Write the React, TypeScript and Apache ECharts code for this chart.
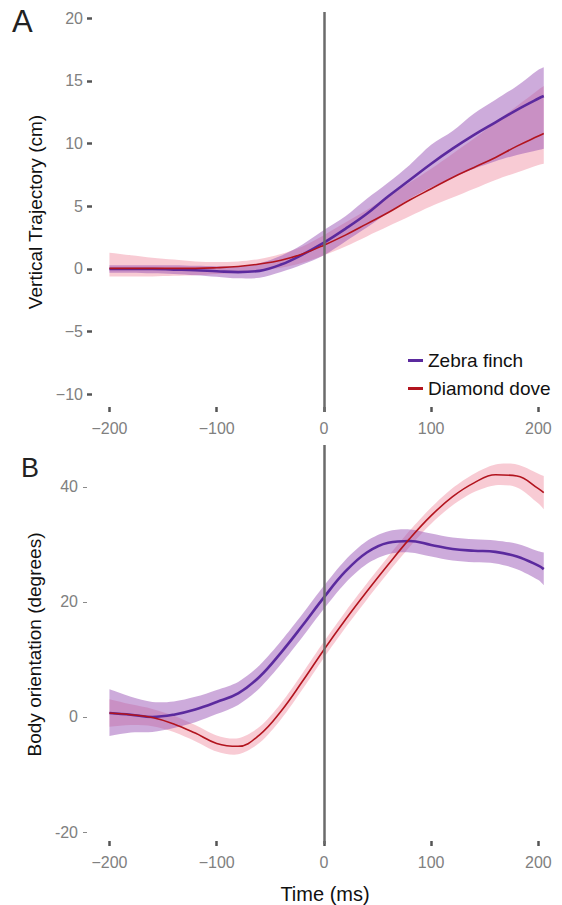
import React, { useEffect, useRef } from "react";
import * as echarts from "echarts";

// Time points (ms)
const TIME = [-200, -180, -160, -140, -120, -100, -80, -60, -40, -20, 0, 20, 40, 60, 80, 100, 120, 140, 160, 180, 200, 205];

// Panel A: vertical trajectory (cm)
const ZF_A_MEAN = [0.0, 0.0, 0.0, -0.05, -0.1, -0.18, -0.25, -0.15, 0.35, 1.15, 2.1, 3.2, 4.4, 5.8, 7.1, 8.4, 9.6, 10.7, 11.7, 12.7, 13.6, 13.8];
const ZF_A_LOW = [-0.3, -0.3, -0.35, -0.4, -0.5, -0.62, -0.75, -0.7, -0.25, 0.35, 1.1, 2.2, 3.3, 4.5, 5.6, 6.5, 7.3, 8.0, 8.6, 9.1, 9.5, 9.6];
const ZF_A_HIGH = [0.3, 0.3, 0.3, 0.3, 0.25, 0.22, 0.22, 0.45, 1.05, 1.95, 3.1, 4.2, 5.6, 6.9, 8.3, 9.9, 11.0, 12.4, 13.5, 14.6, 15.9, 16.1];
const DD_A_MEAN = [0.05, 0.05, 0.05, 0.05, 0.05, 0.1, 0.2, 0.4, 0.7, 1.2, 1.9, 2.7, 3.6, 4.5, 5.5, 6.4, 7.3, 8.1, 8.9, 9.8, 10.6, 10.8];
const DD_A_LOW = [-0.6, -0.6, -0.6, -0.55, -0.5, -0.4, -0.3, -0.1, 0.1, 0.5, 1.1, 1.8, 2.6, 3.4, 4.2, 5.0, 5.7, 6.4, 7.1, 7.7, 8.3, 8.4];
const DD_A_HIGH = [1.3, 1.1, 0.9, 0.75, 0.6, 0.55, 0.6, 0.8, 1.2, 1.8, 2.7, 3.7, 4.7, 5.8, 6.9, 8.0, 9.2, 10.4, 11.7, 13.0, 14.3, 14.6];

// Panel B: body orientation (degrees)
const ZF_B_MEAN = [0.7, 0.4, 0.0, 0.4, 1.3, 2.6, 4.1, 7.0, 11.2, 15.9, 20.8, 25.3, 28.6, 30.3, 30.6, 29.9, 29.2, 28.9, 28.7, 27.9, 26.3, 25.7];
const ZF_B_LOW = [-3.3, -2.7, -2.6, -1.9, -0.9, 0.5, 2.1, 5.0, 9.2, 13.9, 18.8, 23.3, 26.6, 28.3, 28.6, 27.9, 27.2, 26.9, 26.7, 25.7, 23.8, 22.9];
const ZF_B_HIGH = [4.8, 3.5, 2.6, 2.7, 3.5, 4.7, 6.1, 9.0, 13.2, 17.9, 22.8, 27.3, 30.6, 32.3, 32.6, 31.9, 31.2, 30.9, 30.7, 30.1, 28.8, 28.6];
const DD_B_MEAN = [0.7, 0.4, -0.1, -1.2, -2.8, -4.6, -5.1, -3.1, 1.0, 6.2, 11.7, 16.9, 21.8, 26.5, 31.0, 35.0, 38.3, 40.7, 42.1, 41.9, 39.7, 39.0];
const DD_B_LOW = [-1.7, -1.4, -1.6, -2.6, -4.2, -6.0, -6.5, -4.5, -0.4, 4.8, 10.3, 15.5, 20.4, 25.1, 29.6, 33.6, 36.8, 39.1, 40.3, 39.9, 37.1, 36.1];
const DD_B_HIGH = [3.1, 2.2, 1.4, 0.2, -1.4, -3.2, -3.7, -1.7, 2.4, 7.6, 13.1, 18.3, 23.2, 27.9, 32.4, 36.4, 39.8, 42.3, 43.9, 43.9, 42.3, 41.9];

// Tick labels
const X_TICKS = [-200, -100, 0, 100, 200];
const YA_TICKS = [-10, -5, 0, 5, 10, 15, 20];
const YB_TICKS = [-20, 0, 20, 40];

const SERIES_NAMES = ["Zebra finch", "Diamond dove"];

const FONT = "'Liberation Sans', Arial, Helvetica, sans-serif";
const ZF_LINE = "#5b2a9e";
const DD_LINE = "#b2141e";
const ZF_BAND = "rgba(150, 80, 180, 0.48)";
const DD_BAND = "rgba(240, 140, 160, 0.45)";

function pairs(x: number[], y: number[]) {
  return x.map((t, i) => [t, y[i]]);
}

// confidence band drawn as a polygon through the axes' own coordinate mapping
function bandSeries(id: string, idx: number, low: number[], high: number[], color: string) {
  return {
    type: "custom",
    name: id,
    xAxisIndex: idx,
    yAxisIndex: idx,
    coordinateSystem: "cartesian2d",
    silent: true,
    clip: true,
    z: 1,
    data: [[TIME[0], low[0]]],
    renderItem: (_params: any, api: any) => {
      const top = TIME.map((t, i) => api.coord([t, high[i]]));
      const bot = TIME.map((t, i) => api.coord([t, low[i]])).reverse();
      // repeat the end corners so that smoothing keeps them square
      const pts = [top[0], ...top, top[top.length - 1], bot[0], ...bot, bot[bot.length - 1]];
      return {
        type: "polygon",
        shape: { points: pts, smooth: 0.3 },
        style: { fill: color },
        silent: true,
      };
    },
  };
}

function lineSeries(name: string, idx: number, mean: number[], color: string, width: number, vline: boolean) {
  const s: any = {
    type: "line",
    name,
    xAxisIndex: idx,
    yAxisIndex: idx,
    data: pairs(TIME, mean),
    symbol: "none",
    smooth: 0.4,
    lineStyle: { color, width },
    itemStyle: { color },
    z: 3,
  };
  if (vline) {
    s.markLine = {
      silent: true,
      symbol: ["none", "none"],
      label: { show: false },
      lineStyle: { color: "#6b6b6b", width: 2.5, type: "solid" },
      data: [{ xAxis: 0 }],
      z: 6,
    };
  }
  return s;
}

const minusFmt = (v: number) => (v < 0 ? "\u2212" + Math.abs(v) : String(v));

export default function App() {
  const ref = useRef<HTMLDivElement>(null);

  useEffect(() => {
    if (!ref.current) return;
    const chart = echarts.init(ref.current, undefined, { renderer: "svg" });

    const labelStyle = { color: "#808080", fontSize: 16, fontFamily: FONT };

    const option: any = {
      animation: false,
      backgroundColor: "#ffffff",
      textStyle: { fontFamily: FONT },
      grid: [
        { left: 88, width: 474, top: 12, height: 400 },
        { left: 88, width: 474, top: 445, height: 400 },
      ],
      xAxis: [
        {
          type: "value",
          gridIndex: 0,
          min: -220,
          max: 222,
          offset: -5,
          axisLine: { show: false, onZero: false },
          splitLine: { show: false },
          axisTick: { show: true, length: 5, customValues: X_TICKS, lineStyle: { color: "#555555", width: 2.5 } },
          axisLabel: { ...labelStyle, customValues: X_TICKS, margin: 13, formatter: minusFmt },
        },
        {
          type: "value",
          gridIndex: 1,
          min: -220,
          max: 222,
          offset: -3,
          axisLine: { show: false, onZero: false },
          splitLine: { show: false },
          axisTick: { show: true, length: 5, customValues: X_TICKS, lineStyle: { color: "#555555", width: 2.5 } },
          axisLabel: { ...labelStyle, customValues: X_TICKS, margin: 13, formatter: minusFmt },
          name: "Time (ms)",
          nameLocation: "middle",
          nameGap: 43,
          nameTextStyle: { color: "#111111", fontSize: 20, fontFamily: FONT },
        },
      ],
      yAxis: [
        {
          type: "value",
          gridIndex: 0,
          min: -11.41,
          max: 20.5,
          offset: -4,
          axisLine: { show: false, onZero: false },
          splitLine: { show: false },
          axisTick: { show: true, length: 5, customValues: YA_TICKS, lineStyle: { color: "#555555", width: 2.5 } },
          axisLabel: { ...labelStyle, customValues: YA_TICKS, margin: 9, formatter: minusFmt },
          name: "Vertical Trajectory (cm)",
          nameLocation: "middle",
          nameGap: 26,
          nameTextStyle: { color: "#111111", fontSize: 19, fontFamily: FONT },
        },
        {
          type: "value",
          gridIndex: 1,
          min: -22.08,
          max: 47.28,
          offset: 1,
          axisLine: { show: false, onZero: false },
          splitLine: { show: false },
          axisTick: { show: true, length: 4, customValues: YB_TICKS, lineStyle: { color: "#8a8a8a", width: 1 } },
          axisLabel: { ...labelStyle, customValues: YB_TICKS, margin: 9 },
          name: "Body orientation (degrees)",
          nameLocation: "middle",
          nameGap: 21,
          nameTextStyle: { color: "#111111", fontSize: 19, fontFamily: FONT },
        },
      ],
      legend: {
        data: SERIES_NAMES,
        orient: "vertical",
        left: 408,
        top: 351,
        padding: 0,
        icon: "rect",
        itemWidth: 15,
        itemHeight: 3,
        itemGap: 9,
        selectedMode: false,
        textStyle: { color: "#111111", fontSize: 19, fontFamily: FONT, padding: [0, 0, 0, 0] },
      },
      graphic: [
        { type: "text", left: 12, top: 6, style: { text: "A", fontSize: 31, fill: "#222222", fontFamily: FONT } },
        { type: "text", left: 21, top: 454, style: { text: "B", fontSize: 27, fill: "#222222", fontFamily: FONT } },
      ],
      series: [
        bandSeries("dd-a", 0, DD_A_LOW, DD_A_HIGH, DD_BAND),
        bandSeries("zf-a", 0, ZF_A_LOW, ZF_A_HIGH, ZF_BAND),
        lineSeries(SERIES_NAMES[0], 0, ZF_A_MEAN, ZF_LINE, 2.6, true),
        lineSeries(SERIES_NAMES[1], 0, DD_A_MEAN, DD_LINE, 1.6, false),
        bandSeries("dd-b", 1, DD_B_LOW, DD_B_HIGH, DD_BAND),
        bandSeries("zf-b", 1, ZF_B_LOW, ZF_B_HIGH, ZF_BAND),
        lineSeries(SERIES_NAMES[0] + " ", 1, ZF_B_MEAN, ZF_LINE, 2.6, true),
        lineSeries(SERIES_NAMES[1] + " ", 1, DD_B_MEAN, DD_LINE, 1.6, false),
      ],
    };

    chart.setOption(option);
    return () => chart.dispose();
  }, []);

  return (
    <div
      ref={ref}
      style={{ position: "fixed", left: 0, top: 0, width: 562, height: 905, background: "#fff" }}
    />
  );
}
